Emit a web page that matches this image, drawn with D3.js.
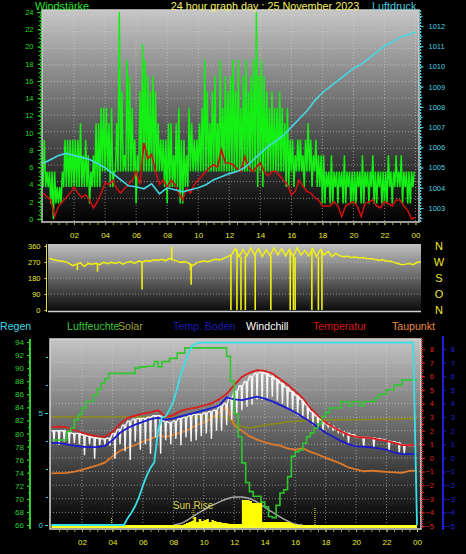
<!DOCTYPE html>
<html>
<head>
<meta charset="utf-8">
<script src="https://cdn.jsdelivr.net/npm/d3@7"></script>
<style>
body { margin: 0; background: #000; }
svg { display: block; font-family: "Liberation Sans", Arial, sans-serif; }
</style>
</head>
<body>
<svg id="chart" width="466" height="554"></svg>
<script>
// ---------- data ----------
var hourTicks = ["02", "04", "06", "08", "10", "12", "14", "16", "18", "20", "22", "00"];

// wind gusts, 10 minute bins: highest and lowest value in each bin (km/h)
var gustHi = [
  9.2, 5.5, 5.5, 5.5, 5.5, 3.7,   3.7, 5.5, 9.2, 9.2, 9.2, 9.2,
  9.2, 9.2, 11.1, 7.4, 9.2, 7.4,  5.5, 7.4, 11.1, 11.1, 12.9, 12.9,
  12.9, 11.1, 12.9, 5.5, 11.1, 24, 14.8, 7.4, 18.5, 16.6, 12.9, 9.2,
  7.4, 14.8, 20.3, 18.5, 16.6, 14.8, 16.6, 14.8, 11.1, 9.2, 9.2, 9.2,
  11.1, 11.1, 7.4, 11.1, 12.9, 9.2, 9.2, 7.4, 12.9, 11.1, 9.2, 9.2,
  11.1, 12.9, 18.5, 14.8, 11.1, 14.8, 16.6, 11.1, 18.5, 12.9, 16.6, 14.8,
  16.6, 18.5, 14.8, 18.5, 12.9, 16.6, 18.5, 14.8, 16.6, 18.5, 24, 16.6,
  18.5, 16.6, 14.8, 12.9, 14.8, 12.9, 12.9, 14.8, 12.9, 11.1, 12.9, 9.2,
  9.2, 7.4, 9.2, 9.2, 7.4, 9.2,   11.1, 9.2, 7.4, 9.2, 7.4, 7.4,
  7.4, 5.5, 5.5, 7.4, 5.5, 5.5,   5.5, 5.5, 7.4, 5.5, 5.5, 5.5,
  5.5, 5.5, 5.5, 7.4, 5.5, 5.5,   5.5, 7.4, 5.5, 5.5, 5.5, 5.5,
  5.5, 7.4, 5.5, 5.5, 7.4, 5.5,   7.4, 5.5, 5.5, 5.5, 5.5, 5.5
];
var gustLo = [
  3.7, 3.7, 3.7, 1.8, 0, 1.8,     1.8, 1.8, 3.7, 3.7, 3.7, 3.7,
  3.7, 3.7, 3.7, 3.7, 3.7, 3.7,   1.8, 3.7, 3.7, 3.7, 3.7, 5.5,
  5.5, 5.5, 3.7, 3.7, 5.5, 5.5,   5.5, 5.5, 5.5, 5.5, 5.5, 5.5,
  1.8, 5.5, 5.5, 5.5, 5.5, 5.5,   5.5, 5.5, 5.5, 5.5, 5.5, 3.7,
  1.8, 3.7, 3.7, 3.7, 3.7, 1.8,   1.8, 3.7, 3.7, 5.5, 5.5, 5.5,
  5.5, 5.5, 5.5, 5.5, 5.5, 5.5,   5.5, 5.5, 5.5, 5.5, 5.5, 5.5,
  5.5, 5.5, 5.5, 5.5, 5.5, 5.5,   5.5, 5.5, 5.5, 5.5, 5.5, 3.7,
  5.5, 3.7, 5.5, 5.5, 5.5, 5.5,   5.5, 5.5, 5.5, 5.5, 3.7, 3.7,
  5.5, 3.7, 5.5, 5.5, 5.5, 3.7,   5.5, 5.5, 3.7, 5.5, 3.7, 3.7,
  1.8, 1.8, 3.7, 1.8, 1.8, 3.7,   1.8, 3.7, 1.8, 1.8, 3.7, 1.8,
  1.8, 1.8, 3.7, 1.8, 1.8, 3.7,   1.8, 3.7, 1.8, 1.8, 3.7, 1.8,
  1.8, 1.8, 3.7, 1.8, 3.7, 3.7,   3.7, 1.8, 3.7, 1.8, 1.8, 3.7
];
// average wind, every 15 minutes
var windAvg = [
  3.0, 2.6, 2.2, 0.3,  1.5, 2.0, 2.5, 3.0,  3.7, 3.0, 2.5, 2.8,  2.2, 1.3, 2.0, 3.0,
  4.2, 4.0, 4.5, 3.5,  3.0, 3.5, 4.0, 4.5,  5.5, 4.0, 8.8, 7.0,  7.5, 5.5, 4.0, 4.5,
  3.7, 4.5, 4.0, 3.0,  2.2, 3.5, 3.0, 4.0,  4.5, 5.0, 5.5, 6.0,  6.3, 6.0, 8.0, 6.5,
  6.5, 6.3, 5.8, 5.5,  7.2, 6.0, 5.5, 6.0,  6.5, 5.5, 5.0, 5.5,  5.5, 5.0, 4.5, 4.0,
  2.8, 3.2, 4.5, 3.8,  3.2, 3.0, 2.5, 2.2,  1.5, 1.5, 1.5, 2.0,  1.5, 0.3, 1.5, 1.8,
  2.0, 1.5, 0.3, 1.8,  2.0, 2.2, 1.5, 1.3,  2.0, 1.8, 1.5, 2.2,  2.2, 1.5, 1.0, 0.0,
  0.2
];
// air pressure, every 30 minutes (hPa)
var pressure = [
  1005.2, 1005.4, 1005.6, 1005.7, 1005.6, 1005.5, 1005.4, 1005.2, 1005.0, 1004.7,
  1004.4, 1004.1, 1004.05, 1003.95, 1004.2, 1003.7, 1004.0, 1003.9, 1003.8, 1003.9,
  1004.0, 1004.15, 1004.4, 1004.55, 1004.7, 1004.8, 1005.0, 1005.35, 1005.7, 1006.05,
  1006.3, 1006.6, 1007.0, 1007.4, 1007.8, 1008.3, 1008.7, 1009.0, 1009.3, 1009.6,
  1009.9, 1010.1, 1010.4, 1010.7, 1011.0, 1011.2, 1011.45, 1011.55, 1011.7
];
// wind direction, every 15 minutes (degrees)
var windDir = [
  291, 284, 278, 275,  272, 262, 250, 258,  265, 245, 262, 258,  263, 255, 268, 260,
  268, 262, 270, 258,  268, 272, 262, 275,  270, 278, 275, 282,  280, 285, 278, 290,
  282, 275, 268, 272,  262, 250, 265, 272,  275, 272, 280, 285,  282, 290, 300, 310,
  345, 300, 340, 305,  350, 310, 345, 300,  340, 305, 350, 310,  345, 305, 340, 300,
  350, 310, 335, 305,  345, 300, 340, 310,  330, 300, 320, 305,  300, 302, 295, 298,
  292, 295, 290, 288,  285, 280, 282, 276,  275, 268, 262, 255,  258, 262, 255, 268,
  270
];
// short excursions of the direction: [hour, degrees]
var dirSpikes = [
  [1.8, 225], [3.1, 215], [5.98, 115], [7.9, 356], [9.1, 225], [9.15, 142],
  [11.72, 0], [12.11, 0], [12.37, 0], [12.65, 0], [13.29, 0], [14.3, 0],
  [15.55, 0], [15.76, 0], [15.87, 0], [16.95, 0], [17.37, 0], [17.6, 0]
];

// lower chart, every 30 minutes (deg C)
var temperature = [
  2.25, 2.3, 2.25, 2.05, 1.85, 1.7, 1.6, 1.55, 1.9, 2.5,
  2.95, 3.1, 3.25, 3.35, 3.5, 3.0, 3.15, 3.45, 3.6, 3.7,
  3.85, 4.0, 4.3, 4.7, 5.35, 5.95, 6.25, 6.45, 6.4, 6.2,
  5.8, 5.4, 4.9, 4.4, 3.65, 3.1, 2.6, 2.25, 1.95, 1.7,
  1.55, 1.5, 1.45, 1.35, 1.25, 1.1, 0.95, 0.93, 0.93
];
var groundTemp = [
  1.1, 1.08, 1.0, 0.9, 0.82, 0.8, 0.8, 0.88, 1.3, 1.85,
  2.2, 2.45, 2.65, 2.85, 2.95, 2.8, 2.9, 3.05, 3.2, 3.35,
  3.5, 3.65, 3.85, 4.45, 4.3, 4.25, 4.37, 4.5, 4.35, 4.15,
  3.9, 3.64, 3.35, 3.0, 2.65, 2.25, 1.85, 1.55, 1.25, 1.02,
  0.85, 0.82, 0.78, 0.7, 0.6, 0.4, 0.28, 0.28, 0.3
];
var dewPoint = [
  -1.14, -1.12, -1.1, -1.0, -0.88, -0.72, -0.55, -0.35, 0.1, 0.53,
  0.75, 0.95, 1.2, 1.4, 1.65, 1.55, 1.7, 1.85, 2.1, 2.4,
  2.6, 2.9, 3.3, 3.8, 2.4, 2.0, 1.6, 1.35, 1.15, 1.0,
  0.9, 0.7, 0.6, 0.72, 0.45, 0.25, 0.0, -0.2, -0.42, -0.7,
  -0.85, -0.98, -0.93, -0.98, -1.02, -1.06, -1.1, -0.95, -0.93
];
var oliveLine = [
  3.0, 3.0, 3.0, 3.0, 3.0, 3.0, 3.0, 3.0, 3.0, 3.0,
  3.0, 3.0, 3.0, 3.0, 3.0, 3.0, 3.0, 3.0, 3.0, 3.0,
  3.0, 3.0, 3.0, 3.0, 2.45, 2.3, 2.2, 2.3, 2.4, 2.5,
  2.55, 2.65, 2.7, 2.72, 2.75, 2.78, 2.8, 2.8, 2.8, 2.8,
  2.82, 2.82, 2.83, 2.84, 2.85, 2.86, 2.87, 2.88, 2.9
];
// windchill, 20 minute bins: highest and lowest value
var chillHi = [
  2.0, 2.0, 2.0,  1.9, 1.8, 1.8,  1.7, 1.6, 1.5,  1.45, 1.4, 1.45,
  1.8, 2.1, 2.4,  2.7, 2.85, 2.9, 2.9, 3.0, 3.1,  3.1, 2.7, 2.6,
  2.7, 2.9, 3.0,  3.1, 3.2, 3.2,  3.3, 3.4, 3.5,  3.8, 4.0, 4.45,
  4.9, 5.3, 5.6,  6.0, 6.2, 6.3,  6.2, 6.0, 5.8,  5.5, 5.2, 4.9,
  4.6, 4.3, 3.9,  3.4, 3.1, 2.8,  2.5, 2.3, 2.1,  1.9, 1.8, 1.7,
  1.55, 1.5, 1.5, 1.45, 1.42, 1.35, 1.25, 1.2, 1.1, 0.95, 0.93, 0.9
];
var chillLo = [
  1.2, 0.95, 1.2,  1.05, 1.1, 1.0,  0.2, 1.0, -0.05,  0.95, 1.0, 0.9,
  -0.05, 1.0, 0.5, -0.15, 1.2, 0.6,  1.0, 0.3, 1.5,  0.3, 1.3, 1.0,
  1.4, 0.94, 1.5,  1.2, 1.3, 1.6,  1.8, 1.4, 2.0,  2.0, 2.4, 2.8,
  3.3, 3.5, 3.76,  3.9, 4.3, 4.25, 4.4, 4.5, 4.2,  4.0, 3.6, 3.5,
  3.1, 3.0, 2.7,  2.4, 2.2, 2.0,  2.3, 2.0, 1.9,  1.7, 1.1, 1.6,
  1.5, 0.85, 1.45, 0.8, 1.4, 1.3,  0.55, 1.15, 0.4, 0.3, 0.9, 0.88
];
// humidity (%) and rain (mm), every 15 minutes
var humidity = [
  79.0, 79.0, 79.0, 79.0,  80.3, 80.8, 82.1, 82.9,  83.9, 84.9, 84.9, 85.9,
  86.8, 87.7, 88.4, 89.2,  89.2, 89.2, 89.2, 89.2,  89.2, 89.2, 90.0, 90.2,
  90.2, 90.3, 90.3, 91.0,  90.2, 91.0, 91.0, 91.5,  91.5, 92.3, 92.3, 93.1,
  93.1, 93.1, 93.1, 93.1,  93.1, 93.1, 93.1, 93.1,  93.1, 93.1, 91.8, 88.0,
  83.0, 79.5, 75.5, 72.5,  71.1, 70.4, 70.4, 69.5,  68.8, 67.3, 67.1, 69.0,
  70.9, 71.4, 73.4, 76.5,  77.2, 77.5, 78.5, 79.5,  80.1, 80.8, 81.5, 82.6,
  83.2, 83.9, 83.9, 83.9,  84.9, 84.9, 84.2, 84.9,  84.9, 84.2, 84.9, 84.9,
  84.9, 85.4, 86.0, 86.0,  86.7, 86.7, 87.4, 87.4,  88.2, 88.2, 88.2, 88.2,
  88.2
];
var rain = [
  0, 0, 0, 0,  0, 0, 0, 0,  0, 0, 0, 0,  0, 0, 0, 0,  0, 0, 0, 0,
  0.3, 0.55, 0.85, 1.25,  1.75, 2.2, 2.55, 2.8,  4.25, 4.8, 4.85, 5.15,
  5.5, 6.1, 6.75, 7.2,  7.7, 8.0, 8.1, 8.14,
  8.14, 8.14, 8.14, 8.14,  8.14, 8.14, 8.14, 8.14,  8.14, 8.14, 8.14, 8.14,
  8.14, 8.14, 8.14, 8.14,  8.14, 8.14, 8.14, 8.14,  8.14, 8.14, 8.14, 8.14,
  8.14, 8.14, 8.14, 8.14,  8.14, 8.14, 8.14, 8.14,  8.14, 8.14, 8.14, 8.14,
  8.14, 8.14, 8.14, 8.14,  8.14, 8.14, 8.14, 8.14,  8.14, 8.14, 8.14, 8.14,
  8.14, 8.14, 8.14, 8.14,  8.14, 8.14, 8.14, 8.14,
  0
];
// solar radiation (W/m2), 10 minute steps starting at solarStart
var solarStart = 8.5;
var solar = [
  0, 7, 14, 21, 28, 56, 21, 42, 28, 35, 42, 21, 35, 28, 21, 21, 14, 14, 10, 7,
  7, 7, 7, 7, 175, 175, 175, 168, 154, 154, 154, 154, 21, 21, 21, 21, 21, 21,
  21, 21, 21, 21, 21, 14, 7, 3, 0
];
// theoretical maximum radiation, 30 minute steps starting at solarMaxStart
var solarMaxStart = 8;
var solarMax = [0, 10, 40, 75, 105, 135, 160, 182, 196, 196, 185, 160, 125, 90, 57, 28, 5, 0];
// sun / moon markers: [hour, marker height in W/m2]
var sunMarks = [[3.95, 56], [9.3, 119], [17.3, 119]];

// ---------- setup ----------
var font = "'Liberation Sans', Arial, sans-serif";
var svg = d3.select("#chart");
var defs = svg.append("defs");

function addGradient(id, c0, c1) {
  var g = defs.append("linearGradient").attr("id", id)
    .attr("x1", 0).attr("y1", 0).attr("x2", 0).attr("y2", 1);
  g.append("stop").attr("offset", "0%").attr("stop-color", c0);
  g.append("stop").attr("offset", "100%").attr("stop-color", c1);
}
addGradient("bgTop", "#c6c6c6", "#000000");
addGradient("bgDir", "#c2c2c2", "#080808");
addGradient("bgBot", "#c4c4c4", "#000000");

function styleAxis(g, color, size) {
  g.attr("font-family", font).attr("font-size", size);
  g.selectAll("path.domain").attr("stroke", color);
  g.selectAll(".tick line").attr("stroke", color);
  g.selectAll("text").attr("fill", color);
  return g;
}
function minorTicks(g, axis, color) {
  g.call(axis.tickFormat(""));
  g.select("path.domain").remove();
  g.selectAll(".tick line").attr("stroke", color);
}

var tx = d3.scaleLinear().domain([0, 24]).range([43, 415.5]);
var windY = d3.scaleLinear().domain([0, 24]).range([219, 12]);
var presY = d3.scaleLinear().domain([1003, 1012]).range([208, 26]);
var dx = d3.scaleLinear().domain([0, 24]).range([49.5, 421]);
var dirY = d3.scaleLinear().domain([0, 360]).range([310, 246]);
var bx = d3.scaleLinear().domain([0, 24]).range([51.5, 417]);
var tempY = d3.scaleLinear().domain([-5, 8]).range([526, 349]);
var humY = d3.scaleLinear().domain([66, 94]).range([525, 342]);
var rainY = d3.scaleLinear().domain([0, 5]).range([525, 413]);
var solY = d3.scaleLinear().domain([0, 1300]).range([525, 339]);
var gridRows = d3.scaleLinear().domain([0, 12]).range([215, 15]);

var gridColor = "#d8d8d8";
var intFmt = d3.format("d");

// ---------- top chart: wind + pressure ----------
var gTop = svg.append("g");
gTop.append("rect").attr("x", 42).attr("y", 10).attr("width", 377).attr("height", 212)
  .attr("fill", "url(#bgTop)");
gTop.append("g").selectAll("line").data(d3.range(2, 25, 2)).join("line")
  .attr("x1", function(d) { return tx(d); }).attr("x2", function(d) { return tx(d); })
  .attr("y1", 10).attr("y2", 222)
  .attr("stroke", gridColor).attr("stroke-opacity", 0.55).attr("stroke-dasharray", "1,2");
gTop.append("g").selectAll("line").data(d3.range(1, 13)).join("line")
  .attr("x1", 42).attr("x2", 419)
  .attr("y1", function(d) { return gridRows(d); }).attr("y2", function(d) { return gridRows(d); })
  .attr("stroke", gridColor).attr("stroke-opacity", 0.55).attr("stroke-dasharray", "1,2");

var gustStep = 24 / gustHi.length;
var gustPts = [];
gustHi.forEach(function(v, i) {
  gustPts.push([i * gustStep, gustLo[i]]);
  gustPts.push([(i + 0.5) * gustStep, v]);
});
gTop.append("path").datum(gustPts)
  .attr("fill", "none").attr("stroke", "#14f014").attr("stroke-width", 1.5)
  .attr("d", d3.line().x(function(d) { return tx(d[0]); }).y(function(d) { return windY(d[1]); }));

gTop.append("path").datum(windAvg)
  .attr("fill", "none").attr("stroke", "#cc1010").attr("stroke-width", 1.6)
  .attr("d", d3.line().x(function(d, i) { return tx(i * 0.25); }).y(function(d) { return windY(d); }));

gTop.append("path").datum(pressure)
  .attr("fill", "none").attr("stroke", "#44d8e4").attr("stroke-width", 1.6)
  .attr("d", d3.line().x(function(d, i) { return tx(i * 0.5); }).y(function(d) { return presY(d); }));

gTop.append("rect").attr("x", 42).attr("y", 10).attr("width", 377).attr("height", 212)
  .attr("fill", "none").attr("stroke", "#d0d0d0").attr("stroke-width", 1.5);

var wAxis = gTop.append("g").attr("transform", "translate(40.5,0)")
  .call(d3.axisLeft(windY).tickValues(d3.range(0, 25, 2)).tickSize(3).tickPadding(4));
styleAxis(wAxis, "#28d828", 7.5);
wAxis.select("path.domain").attr("stroke-dasharray", "2,1").attr("stroke-width", 1.5);
minorTicks(gTop.append("g").attr("transform", "translate(40.5,0)"),
  d3.axisLeft(windY).tickValues(d3.range(0, 24.1, 0.5)).tickSize(2), "#28d828");

var pAxis = gTop.append("g").attr("transform", "translate(420.5,0)")
  .call(d3.axisRight(presY).tickValues(d3.range(1003, 1013)).tickFormat(intFmt).tickSize(3).tickPadding(5));
styleAxis(pAxis, "#44d0e0", 7.5);
pAxis.select("path.domain").attr("d", "M0,10V222").attr("stroke-dasharray", "2,1").attr("stroke-width", 1.5);
minorTicks(gTop.append("g").attr("transform", "translate(420.5,0)"),
  d3.axisRight(presY).tickValues(d3.range(1002.5, 1012.8, 0.5)).tickSize(2), "#44d0e0");

var xAxisTop = gTop.append("g").attr("transform", "translate(0,223)")
  .call(d3.axisBottom(tx).tickValues(d3.range(2, 25, 2)).tickSize(2).tickPadding(7)
    .tickFormat(function(d, i) { return hourTicks[i]; }));
styleAxis(xAxisTop, "#e8e830", 8);
xAxisTop.select("path.domain").remove();
minorTicks(gTop.append("g").attr("transform", "translate(0,223)"),
  d3.axisBottom(tx).tickValues(d3.range(0.5, 24, 0.5)).tickSize(2), "#a0a020");

svg.append("text").attr("x", 35).attr("y", 10).attr("fill", "#2ee02e")
  .attr("font-family", font).attr("font-size", 10.8).text("Windstärke");
svg.append("text").attr("x", 265).attr("y", 10).attr("text-anchor", "middle").attr("fill", "#f4f060")
  .attr("font-family", font).attr("font-size", 10.8).text("24 hour graph day : 25 November 2023");
svg.append("text").attr("x", 372).attr("y", 10).attr("fill", "#44c8dc")
  .attr("font-family", font).attr("font-size", 10.8).text("Luftdruck");

// ---------- middle chart: wind direction ----------
var gMid = svg.append("g");
gMid.append("rect").attr("x", 48).attr("y", 244).attr("width", 373).attr("height", 68)
  .attr("fill", "url(#bgDir)");
gMid.append("g").selectAll("line").data([90, 180, 270]).join("line")
  .attr("x1", 48).attr("x2", 421)
  .attr("y1", function(d) { return dirY(d); }).attr("y2", function(d) { return dirY(d); })
  .attr("stroke", gridColor).attr("stroke-opacity", 0.55).attr("stroke-dasharray", "1,2");
gMid.append("line").attr("x1", 48).attr("x2", 421).attr("y1", 311.5).attr("y2", 311.5)
  .attr("stroke", "#d0d0d0").attr("stroke-width", 1.5);

gMid.append("path").datum(windDir)
  .attr("fill", "none").attr("stroke", "#f0f010").attr("stroke-width", 1.5)
  .attr("d", d3.line().x(function(d, i) { return dx(i * 0.25); }).y(function(d) { return dirY(d); }));
gMid.append("g").selectAll("line").data(dirSpikes).join("line")
  .attr("x1", function(d) { return dx(d[0]); }).attr("x2", function(d) { return dx(d[0]); })
  .attr("y1", function(d) { return dirY(windDir[Math.round(d[0] * 4)]); })
  .attr("y2", function(d) { return dirY(d[1]); })
  .attr("stroke", "#f0f010").attr("stroke-width", 1.6);

var dAxis = gMid.append("g").attr("transform", "translate(46.5,0)")
  .call(d3.axisLeft(dirY).tickValues([0, 90, 180, 270, 360]).tickSize(2).tickPadding(4));
styleAxis(dAxis, "#e8e830", 7.5);
dAxis.select("path.domain").attr("d", "M0,244V312");

gMid.append("g").selectAll("text").data(["N", "W", "S", "O", "N"]).join("text")
  .attr("x", 439).attr("text-anchor", "middle")
  .attr("y", function(d, i) { return dirY(360 - i * 90) + 4; })
  .attr("fill", "#f0e830").attr("font-family", font).attr("font-size", 11)
  .text(function(d) { return d; });

// legend row
var legend = [
  ["Regen", "#3cd8e8", 0], ["Luftfeuchte", "#38c838", 67], ["Solar", "#a0a030", 118],
  ["Temp. Boden", "#1c1cb4", 173], ["Windchill", "#ffffff", 246],
  ["Temperatur", "#d81818", 313], ["Taupunkt", "#e88a40", 392]
];
svg.append("g").selectAll("text").data(legend).join("text")
  .attr("x", function(d) { return d[2]; }).attr("y", 330)
  .attr("fill", function(d) { return d[1]; })
  .attr("font-family", font).attr("font-size", 10.6)
  .text(function(d) { return d[0]; });

// ---------- bottom chart ----------
var gBot = svg.append("g");
gBot.append("rect").attr("x", 50).attr("y", 339).attr("width", 371).attr("height", 190)
  .attr("fill", "url(#bgBot)");
gBot.append("g").selectAll("line").data(d3.range(2, 24, 2)).join("line")
  .attr("x1", function(d) { return bx(d); }).attr("x2", function(d) { return bx(d); })
  .attr("y1", 339).attr("y2", 529)
  .attr("stroke", gridColor).attr("stroke-opacity", 0.55).attr("stroke-dasharray", "1,2");
gBot.append("g").selectAll("line").data(d3.range(-4, 8)).join("line")
  .attr("x1", 50).attr("x2", 421)
  .attr("y1", function(d) { return tempY(d); }).attr("y2", function(d) { return tempY(d); })
  .attr("stroke", gridColor).attr("stroke-opacity", 0.55).attr("stroke-dasharray", "1,2");
gBot.append("rect").attr("x", 50).attr("y", 339).attr("width", 371).attr("height", 190)
  .attr("fill", "none").attr("stroke", "#d8d8d8").attr("stroke-width", 1.5);

// theoretical radiation arc
gBot.append("path").datum(solarMax)
  .attr("fill", "none").attr("stroke", "#a8a8a8").attr("stroke-width", 1.5)
  .attr("d", d3.line().curve(d3.curveMonotoneX)
    .x(function(d, i) { return bx(solarMaxStart + i * 0.5); }).y(function(d) { return solY(d); }));
// measured radiation
gBot.append("path").datum(solar)
  .attr("fill", "#ffff00").attr("stroke", "none")
  .attr("d", d3.area().curve(d3.curveStepAfter)
    .x(function(d, i) { return bx(solarStart + i / 6); })
    .y0(solY(0)).y1(function(d) { return solY(d); }));
gBot.append("line").attr("x1", bx(0)).attr("x2", bx(24))
  .attr("y1", solY(0) + 1.5).attr("y2", solY(0) + 1.5)
  .attr("stroke", "#ffff20").attr("stroke-width", 3);
gBot.append("g").selectAll("line").data(sunMarks).join("line")
  .attr("x1", function(d) { return bx(d[0]); }).attr("x2", function(d) { return bx(d[0]); })
  .attr("y1", solY(0)).attr("y2", function(d) { return solY(d[1]); })
  .attr("stroke", "#f0f020").attr("stroke-width", 1).attr("stroke-dasharray", "1,1");
gBot.append("text").attr("x", bx(sunMarks[1][0])).attr("y", 508.5).attr("text-anchor", "middle")
  .attr("fill", "#d8d050").attr("font-family", font).attr("font-size", 10).text("Sun Rise");

function tempLine(data, color, width) {
  gBot.append("path").datum(data)
    .attr("fill", "none").attr("stroke", color).attr("stroke-width", width)
    .attr("d", d3.line().x(function(d, i) { return bx(i * 0.5); }).y(function(d) { return tempY(d); }));
}
tempLine(oliveLine, "#8c8a14", 1.5);
tempLine(dewPoint, "#e07a28", 1.8);

// windchill: runs along the bin high and drops to the bin low in a narrow tooth
var chillStep = 24 / chillHi.length;
var chillPts = [];
chillHi.forEach(function(v, i) {
  var t = i * chillStep;
  chillPts.push([t, v]);
  chillPts.push([t + 0.35 * chillStep, v]);
  chillPts.push([t + 0.5 * chillStep, chillLo[i]]);
  chillPts.push([t + 0.65 * chillStep, v]);
});
gBot.append("path").datum(chillPts)
  .attr("fill", "none").attr("stroke", "#f4f4f4").attr("stroke-width", 1.4)
  .attr("d", d3.line().x(function(d) { return bx(d[0]); }).y(function(d) { return tempY(d[1]); }));

tempLine(groundTemp, "#1a1ad2", 1.8);
tempLine(temperature, "#dc1c1c", 1.8);

gBot.append("path").datum(humidity)
  .attr("fill", "none").attr("stroke", "#2ec82e").attr("stroke-width", 1.6)
  .attr("d", d3.line().curve(d3.curveStepAfter)
    .x(function(d, i) { return bx(i * 0.25); }).y(function(d) { return humY(d); }));

gBot.append("path").datum(rain)
  .attr("fill", "none").attr("stroke", "#38e0ec").attr("stroke-width", 1.8)
  .attr("d", d3.line().x(function(d, i) { return bx(i * 0.25); }).y(function(d) { return rainY(d); }));

// axes of the bottom chart
var hAxis = gBot.append("g").attr("transform", "translate(30,0)")
  .call(d3.axisLeft(humY).tickValues(d3.range(66, 95, 2)).tickSize(3).tickPadding(3));
styleAxis(hAxis, "#2ed02e", 8);
hAxis.select("path.domain").attr("d", "M0,339V529").attr("stroke-width", 2);
minorTicks(gBot.append("g").attr("transform", "translate(30,0)"),
  d3.axisLeft(humY).tickValues(d3.range(66, 95, 1)).tickSize(2), "#2ed02e");

var rAxis = gBot.append("g").attr("transform", "translate(48,0)")
  .call(d3.axisLeft(rainY).tickValues([0, 5]).tickFormat(intFmt).tickSize(3).tickPadding(2));
styleAxis(rAxis, "#3cd0e0", 8);
rAxis.select("path.domain").remove();
minorTicks(gBot.append("g").attr("transform", "translate(48,0)"),
  d3.axisLeft(rainY).tickValues([1.25, 2.5, 3.75, 6.25, 7.5]).tickSize(2), "#3cd0e0");

var tAxis = gBot.append("g").attr("transform", "translate(422,0)")
  .call(d3.axisRight(tempY).tickValues(d3.range(-5, 9)).tickSize(3).tickPadding(9));
styleAxis(tAxis, "#e02020", 7.5);
tAxis.selectAll("text").attr("text-anchor", "end");
tAxis.select("path.domain").attr("d", "M0,339V529").attr("stroke-dasharray", "1,1").attr("stroke-width", 1.5);
minorTicks(gBot.append("g").attr("transform", "translate(422,0)"),
  d3.axisRight(tempY).tickValues(d3.range(-5, 8.1, 0.5)).tickSize(2), "#e02020");

var gAxis = gBot.append("g").attr("transform", "translate(443,0)")
  .call(d3.axisRight(tempY).tickValues(d3.range(-5, 9)).tickSize(3).tickPadding(9));
styleAxis(gAxis, "#2020d8", 7.5);
gAxis.selectAll("text").attr("text-anchor", "end");
gAxis.select("path.domain").attr("d", "M0,336V530").attr("stroke-width", 2);

var xAxisBot = gBot.append("g").attr("transform", "translate(0,530)")
  .call(d3.axisBottom(bx).tickValues(d3.range(2, 25, 2)).tickSize(2).tickPadding(7)
    .tickFormat(function(d, i) { return hourTicks[i]; }));
styleAxis(xAxisBot, "#e8e830", 8);
xAxisBot.select("path.domain").remove();
minorTicks(gBot.append("g").attr("transform", "translate(0,530)"),
  d3.axisBottom(bx).tickValues(d3.range(0.5, 24, 0.5)).tickSize(2), "#a0a020");
</script>
</body>
</html>
